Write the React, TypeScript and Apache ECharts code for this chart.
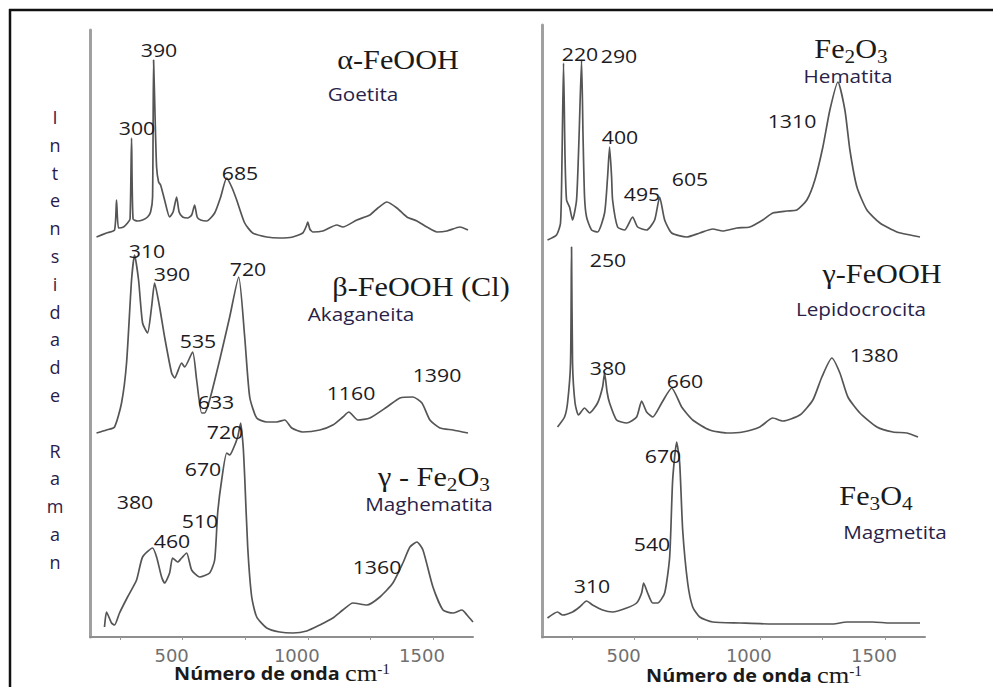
import React, { useEffect, useRef } from 'react';
import * as echarts from 'echarts';

// Raman spectra: [wavenumber (cm-1), intensity (a.u., stacked)]
const goethite: number[][] = [
  [156, 400], [196, 404], [228, 407], [236, 437], [244, 409], [264, 410], [280, 414], [290, 418], [296, 499], [302, 418],
  [320, 416], [340, 417], [360, 420], [372, 425], [380, 440], [384, 577], [390, 520], [396, 470], [404, 455], [412, 452],
  [428, 437], [448, 420], [462, 425], [476, 440], [486, 425], [500, 420], [520, 419], [536, 422], [548, 432], [558, 420],
  [572, 417], [596, 416], [628, 424], [652, 440], [676, 459], [696, 450], [716, 437], [748, 414], [780, 404], [836, 400],
  [888, 399], [940, 400], [980, 404], [996, 412], [1000, 415], [1008, 408], [1020, 405], [1060, 406], [1116, 412], [1140, 410],
  [1196, 417], [1248, 422], [1280, 429], [1316, 435], [1356, 429], [1396, 420], [1436, 416], [1476, 410], [1516, 405], [1556, 406],
  [1608, 410], [1640, 407],
];

const akaganeite: number[][] = [
  [156, 204], [196, 207], [228, 210], [256, 234], [276, 274], [296, 357], [308, 382], [324, 357], [340, 314], [360, 304],
  [376, 330], [388, 354], [408, 330], [428, 300], [456, 264], [468, 259], [496, 274], [508, 270], [540, 285], [556, 257],
  [576, 224], [588, 224], [608, 237], [648, 277], [688, 320], [724, 360], [748, 300], [768, 240], [796, 219], [836, 215],
  [876, 215], [908, 217], [936, 209], [980, 205], [1048, 207], [1100, 212], [1140, 220], [1164, 225], [1200, 217], [1248, 219],
  [1316, 230], [1368, 239], [1420, 240], [1456, 234], [1488, 217], [1528, 209], [1580, 207], [1640, 204],
];

const maghemite: number[][] = [
  [188, 10], [196, 25], [216, 14], [228, 12], [248, 24], [280, 40], [316, 57], [340, 80], [380, 89], [396, 80],
  [416, 60], [428, 54], [448, 64], [460, 79], [480, 75], [496, 79], [516, 84], [536, 67], [568, 60], [608, 64],
  [628, 77], [640, 124], [656, 157], [676, 184], [688, 182], [700, 187], [720, 200], [732, 214], [742, 190], [748, 160],
  [760, 90], [776, 40], [796, 20], [836, 9], [888, 5], [940, 4], [996, 6], [1048, 12], [1100, 19], [1140, 27],
  [1180, 34], [1236, 32], [1288, 40], [1340, 54], [1380, 74], [1408, 90], [1436, 95], [1460, 87], [1500, 50], [1540, 27],
  [1580, 24], [1616, 27], [1636, 22], [1660, 15],
];

const hematite: number[][] = [
  [152, 397], [188, 402], [204, 414], [210, 480], [216, 574], [222, 480], [228, 437], [240, 430], [252, 417], [268, 437],
  [278, 500], [288, 577], [294, 500], [300, 440], [308, 420], [328, 407], [352, 405], [380, 424], [392, 460], [400, 490],
  [408, 460], [412, 437], [432, 410], [460, 407], [492, 420], [512, 410], [548, 407], [580, 417], [600, 440], [620, 417],
  [648, 404], [708, 400], [760, 404], [812, 408], [852, 406], [908, 409], [960, 410], [1012, 417], [1052, 424], [1108, 426],
  [1148, 427], [1188, 437], [1220, 457], [1252, 490], [1280, 527], [1312, 555], [1340, 527], [1360, 487], [1388, 450], [1428, 427],
  [1480, 414], [1548, 405], [1600, 402], [1640, 400],
];

const lepidocrocite: number[][] = [
  [192, 210], [220, 220], [232, 234], [244, 274], [248, 390], [252, 274], [262, 234], [276, 222], [300, 229], [320, 224],
  [352, 234], [372, 250], [380, 264], [390, 245], [400, 234], [428, 217], [468, 214], [508, 220], [528, 236], [548, 225],
  [572, 220], [608, 234], [648, 249], [688, 230], [732, 217], [800, 207], [868, 204], [932, 205], [1000, 210], [1052, 219],
  [1092, 216], [1160, 222], [1212, 237], [1248, 260], [1288, 279], [1320, 264], [1352, 240], [1400, 224], [1468, 210], [1532, 205],
  [1588, 204], [1632, 200],
];

const magnetite: number[][] = [
  [152, 19], [192, 25], [212, 22], [252, 25], [280, 30], [308, 36], [332, 32], [372, 27], [412, 25], [468, 29],
  [508, 34], [528, 44], [536, 54], [552, 44], [572, 34], [592, 34], [620, 44], [640, 80], [652, 157], [668, 195],
  [680, 174], [692, 107], [712, 54], [732, 30], [760, 20], [812, 15], [920, 14], [1052, 13], [1188, 13], [1292, 13],
  [1348, 15], [1452, 15], [1520, 14], [1640, 14],
];

const tickValues = [250, 500, 750, 1000, 1250, 1500];
const tickLabels = [500, 1000, 1500];
const yTitleLetters = ['I', 'n', 't', 'e', 'n', 's', 'i', 'd', 'a', 'd', 'e', '', 'R', 'a', 'm', 'a', 'n'];

const SANS = 'Open Sans';
const SERIF = 'Liberation Serif';

const num = (text: string, x: number, y: number) => ({
  type: 'text', x, y, scaleX: 1.12, z: 10,
  style: { text, fontFamily: SANS, fontSize: 19, fill: '#1d1b24', align: 'center', verticalAlign: 'middle' },
});
const name = (text: string, x: number, y: number) => ({
  type: 'text', x, y, scaleX: 1.15, z: 10,
  style: { text, fontFamily: SANS, fontSize: 18, fill: '#2a1f48', align: 'center', verticalAlign: 'middle' },
});
const formula = (text: string, x: number, y: number) => ({
  type: 'text', x, y, scaleX: 1.12, z: 10,
  style: {
    text, fontFamily: SERIF, fontSize: 27, fill: '#1a1a1a', align: 'center', verticalAlign: 'middle',
    rich: {
      m: { fontFamily: SERIF, fontSize: 27, fill: '#1a1a1a' },
      s: { fontFamily: SERIF, fontSize: 19, fill: '#1a1a1a', verticalAlign: 'bottom', padding: [0, 0, -3, 0] },
    },
  },
});
const axisTitle = (x: number, y: number) => ({
  type: 'text', x, y, scaleX: 1.1, z: 10,
  style: {
    text: '{a|Número de onda }{c|cm}{s|-1}', align: 'center', verticalAlign: 'middle',
    rich: {
      a: { fontFamily: SANS, fontWeight: 'bold', fontSize: 18, fill: '#1a1a1a', lineHeight: 22 },
      c: { fontFamily: SERIF, fontSize: 24, fill: '#1a1a1a', lineHeight: 22 },
      s: { fontFamily: SERIF, fontSize: 14, fill: '#1a1a1a', verticalAlign: 'top', lineHeight: 22 },
    },
  },
});

const makeX = (gridIndex: number) => ({
  type: 'value', gridIndex, min: 130, max: 1660,
  axisLine: { show: true, onZero: false, lineStyle: { color: '#8f8f8f', width: 2 } },
  axisTick: { show: true, customValues: tickValues, length: 3, lineStyle: { color: '#9a9a9a', width: 1 } },
  axisLabel: {
    customValues: tickLabels, color: '#707070', fontSize: 18, fontFamily: 'DejaVu Sans',
    margin: 9, padding: [0, 22, 0, 0], formatter: (v: number) => String(v),
  },
  splitLine: { show: false },
});
const makeY = (gridIndex: number, max: number) => ({
  type: 'value', gridIndex, min: 0, max,
  axisLine: { show: true, onZero: false, lineStyle: { color: '#a0a0a0', width: 3 } },
  axisTick: { show: false }, axisLabel: { show: false }, splitLine: { show: false },
});
const line = (data: number[][], idx: number) => ({
  type: 'line', xAxisIndex: idx, yAxisIndex: idx, data, showSymbol: false, symbol: 'none',
  smooth: 0.2, silent: true, lineStyle: { color: '#555555', width: 1.7 },
});

export default function App() {
  const ref = useRef<HTMLDivElement>(null);
  useEffect(() => {
    const chart = echarts.init(ref.current!, null, { renderer: 'svg' });
    chart.setOption({
      animation: false,
      backgroundColor: '#ffffff',
      grid: [
        { left: 90, top: 30, width: 383, height: 607 },
        { left: 542, top: 25, width: 383, height: 612 },
      ],
      xAxis: [makeX(0), makeX(1)],
      yAxis: [makeY(0, 607), makeY(1, 612)],
      series: [
        line(goethite, 0), line(akaganeite, 0), line(maghemite, 0),
        line(hematite, 1), line(lepidocrocite, 1), line(magnetite, 1),
      ],
      graphic: [
        { type: 'line', shape: { x1: 9, y1: 10, x2: 993, y2: 10 }, style: { stroke: '#111', lineWidth: 2.5 } },
        { type: 'line', shape: { x1: 10, y1: 9, x2: 10, y2: 687 }, style: { stroke: '#111', lineWidth: 2.5 } },
        {
          type: 'text', x: 55, y: 103, z: 10,
          style: {
            text: yTitleLetters.join('\n'), fontFamily: SANS, fontSize: 18, lineHeight: 27.8,
            fill: '#2a1a4a', align: 'center', verticalAlign: 'top',
          },
        },
        // left panel
        num('390', 159, 49), num('300', 137, 127), num('685', 240, 172),
        formula('{m|α-FeOOH}', 398, 60), name('Goetita', 363, 94),
        num('310', 147, 250), num('390', 172, 273), num('720', 248, 268),
        formula('{m|β-FeOOH (Cl)}', 421, 287), name('Akaganeita', 361, 314),
        num('535', 198, 340), num('633', 216, 401), num('1160', 351, 392), num('1390', 437, 374),
        num('720', 225, 431), num('670', 203, 468), num('380', 135, 501), num('510', 200, 520),
        num('460', 172, 540), num('1360', 377, 566),
        formula('{m|γ - Fe}{s|2}{m|O}{s|3}', 434, 477), name('Maghematita', 429, 504),
        axisTitle(282, 673),
        // right panel
        num('220', 580, 53), num('290', 619, 55),
        formula('{m|Fe}{s|2}{m|O}{s|3}', 851, 49), name('Hematita', 848, 76),
        num('400', 620, 136), num('1310', 792, 120), num('605', 690, 178), num('495', 642, 193),
        num('250', 608, 259), formula('{m|γ-FeOOH}', 882, 274), name('Lepidocrocita', 861, 309),
        num('380', 608, 367), num('1380', 874, 354), num('660', 685, 380),
        num('670', 663, 455), formula('{m|Fe}{s|3}{m|O}{s|4}', 876, 496), name('Magmetita', 895, 532),
        num('540', 652, 543), num('310', 592, 585),
        axisTitle(754, 675),
      ],
    });
    return () => chart.dispose();
  }, []);
  return (
    <div
      ref={ref}
      style={{ position: 'fixed', left: 0, top: 0, width: 993, height: 687, background: '#fff' }}
    />
  );
}
